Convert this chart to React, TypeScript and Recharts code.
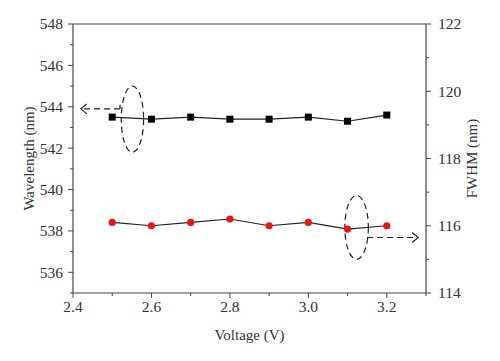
import React from 'react';
import { ComposedChart, Line, XAxis, YAxis, ReferenceLine, ReferenceArea } from 'recharts';

const voltages = [2.5, 2.6, 2.7, 2.8, 2.9, 3.0, 3.1, 3.2];
const wavelength = [543.5, 543.4, 543.5, 543.4, 543.4, 543.5, 543.3, 543.6];
const fwhm = [116.1, 116.0, 116.1, 116.2, 116.0, 116.1, 115.9, 116.0];

const xTicks = [2.4, 2.5, 2.6, 2.7, 2.8, 2.9, 3.0, 3.1, 3.2, 3.3];
const xLabelTicks = [2.4, 2.6, 2.8, 3.0, 3.2];
const leftTicks = [535, 536, 537, 538, 539, 540, 541, 542, 543, 544, 545, 546, 547, 548];
const leftLabelTicks = [536, 538, 540, 542, 544, 546, 548];
const rightTicks = [114, 115, 116, 117, 118, 119, 120, 121, 122];
const rightLabelTicks = [114, 116, 118, 120, 122];

const data = voltages.map((v, i) => ({ v, wl: wavelength[i], fw: fwhm[i] }));

const FONT = '"Liberation Serif", "DejaVu Serif", serif';
const AXIS = '#444';
const TXT = '#333';
const TICK_FS = 15.5;

const isIn = (arr: number[], v: number) => arr.some((a) => Math.abs(a - v) < 1e-6);

const LeftTick = (p: any) => {
  const { x, y, payload } = p;
  const major = isIn(leftLabelTicks, payload.value);
  return (
    <g>
      <line x1={x} x2={x - (major ? 5 : 3)} y1={y} y2={y} stroke={AXIS} strokeWidth={1} />
      {major && (
        <text x={x - 10} y={y} dy="0.35em" textAnchor="end" fontSize={TICK_FS} fontFamily={FONT} fill={TXT}>
          {payload.value}
        </text>
      )}
    </g>
  );
};

const RightTick = (p: any) => {
  const { x, y, payload } = p;
  const major = isIn(rightLabelTicks, payload.value);
  return (
    <g>
      <line x1={x} x2={x + (major ? 5 : 3)} y1={y} y2={y} stroke={AXIS} strokeWidth={1} />
      {major && (
        <text x={x + 12} y={y} dy="0.35em" textAnchor="start" fontSize={TICK_FS} fontFamily={FONT} fill={TXT}>
          {payload.value}
        </text>
      )}
    </g>
  );
};

const BottomTick = (p: any) => {
  const { x, y, payload } = p;
  const major = isIn(xLabelTicks, payload.value);
  return (
    <g>
      <line x1={x} x2={x} y1={y} y2={y + (major ? 5 : 3)} stroke={AXIS} strokeWidth={1} />
      {major && (
        <text x={x} y={y + 19} textAnchor="middle" fontSize={TICK_FS} fontFamily={FONT} fill={TXT}>
          {Number(payload.value).toFixed(1)}
        </text>
      )}
    </g>
  );
};

const SquareDot = (p: any) => {
  const { cx, cy } = p;
  if (cx == null || cy == null) return null;
  return <rect x={cx - 3.5} y={cy - 3.5} width={7} height={7} fill="#000" />;
};

const CircleDot = (p: any) => {
  const { cx, cy } = p;
  if (cx == null || cy == null) return null;
  return <circle cx={cx} cy={cy} r={3.6} fill="#ee1111" />;
};

const EllipseShape = (p: any) => {
  const { x, y, width, height } = p;
  return (
    <ellipse
      cx={x + width / 2}
      cy={y + height / 2}
      rx={Math.abs(width) / 2}
      ry={Math.abs(height) / 2}
      fill="none"
      stroke="#222"
      strokeWidth={1.2}
      strokeDasharray="6 4"
    />
  );
};

const ArrowShape = (p: any) => {
  const { x1, y1, x2, y2 } = p;
  const dx = x2 - x1;
  const dy = y2 - y1;
  const len = Math.sqrt(dx * dx + dy * dy) || 1;
  const ux = dx / len;
  const uy = dy / len;
  const hl = 6;
  const hw = 5;
  const bx = x2 - ux * hl;
  const by = y2 - uy * hl;
  return (
    <g>
      <line x1={x1} y1={y1} x2={x2} y2={y2} stroke="#222" strokeWidth={1.2} strokeDasharray="6 4" />
      <polyline
        points={`${bx - uy * hw},${by + ux * hw} ${x2},${y2} ${bx + uy * hw},${by - ux * hw}`}
        fill="none"
        stroke="#222"
        strokeWidth={1.2}
      />
    </g>
  );
};

const DashShape = (p: any) => {
  const { x1, y1, x2, y2 } = p;
  return <line x1={x1} y1={y1} x2={x2} y2={y2} stroke="#222" strokeWidth={1.2} />;
};

export default function App() {
  return (
    <div style={{ position: 'absolute', left: 0, top: 0, width: 500, height: 361, background: '#fff' }}>
      <ComposedChart width={500} height={361} data={data} margin={{ top: 24, right: 0, bottom: 0, left: 0 }}>
        <XAxis
          dataKey="v"
          type="number"
          domain={[2.4, 3.3]}
          ticks={xTicks}
          interval={0}
          tickSize={0}
          tickMargin={0}
          tickLine={false}
          tick={<BottomTick />}
          height={68}
          stroke={AXIS}
          axisLine={{ stroke: AXIS, strokeWidth: 1.2 }}
          label={{
            value: 'Voltage (V)',
            position: 'insideBottom',
            offset: 21,
            fontSize: 15,
            fontFamily: FONT,
            fill: TXT,
          }}
        />
        <YAxis
          yAxisId="left"
          orientation="left"
          type="number"
          domain={[535, 548]}
          ticks={leftTicks}
          interval={0}
          width={73}
          tickSize={0}
          tickMargin={0}
          tickLine={false}
          tick={<LeftTick />}
          axisLine={{ stroke: AXIS, strokeWidth: 1.2 }}
          label={{
            value: 'Wavelength (nm)',
            angle: -90,
            position: 'insideLeft',
            offset: 29,
            style: { textAnchor: 'middle' },
            fontSize: 15,
            fontFamily: FONT,
            fill: TXT,
          }}
        />
        <YAxis
          yAxisId="right"
          orientation="right"
          type="number"
          domain={[114, 122]}
          ticks={rightTicks}
          interval={0}
          width={74}
          tickSize={0}
          tickMargin={0}
          tickLine={false}
          tick={<RightTick />}
          axisLine={{ stroke: AXIS, strokeWidth: 1.2 }}
          label={{
            value: 'FWHM (nm)',
            angle: -90,
            position: 'insideRight',
            offset: 28,
            style: { textAnchor: 'middle' },
            fontSize: 15,
            fontFamily: FONT,
            fill: TXT,
          }}
        />
        <ReferenceLine yAxisId="left" y={548} stroke={AXIS} strokeWidth={1.2} />
        <Line
          yAxisId="left"
          dataKey="wl"
          stroke="#222"
          strokeWidth={1.2}
          dot={<SquareDot />}
          activeDot={false}
          isAnimationActive={false}
        />
        <Line
          yAxisId="right"
          dataKey="fw"
          stroke="#222"
          strokeWidth={1.2}
          dot={<CircleDot />}
          activeDot={false}
          isAnimationActive={false}
        />
        <ReferenceArea yAxisId="left" x1={2.523} x2={2.58} y1={541.8} y2={545.0} shape={<EllipseShape />} />
        <ReferenceLine
          yAxisId="left"
          segment={[{ x: 2.52, y: 543.9 }, { x: 2.42, y: 543.9 }]}
          shape={(p: any) => <ArrowShape {...p} />}
        />
        <ReferenceLine
          yAxisId="left"
          segment={[{ x: 2.52, y: 543.9 }, { x: 2.52, y: 544.1 }]}
          shape={(p: any) => <DashShape {...p} />}
        />
        <ReferenceArea yAxisId="right" x1={3.093} x2={3.153} y1={115.0} y2={116.9} shape={<EllipseShape />} />
        <ReferenceLine
          yAxisId="right"
          segment={[{ x: 3.15, y: 115.65 }, { x: 3.28, y: 115.65 }]}
          shape={(p: any) => <ArrowShape {...p} />}
        />
      </ComposedChart>
    </div>
  );
}
